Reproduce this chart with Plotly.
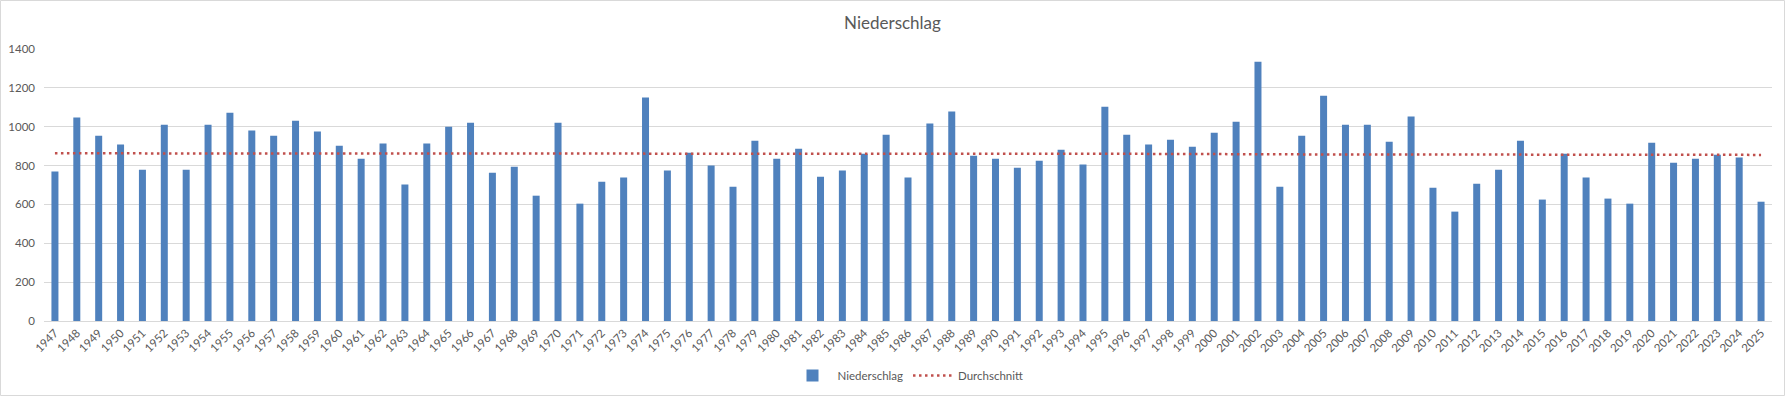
import plotly.graph_objects as go

years = [str(y) for y in range(1947, 2026)]
niederschlag = [
    769, 1047, 954, 908, 779, 1010, 779, 1010, 1072, 980, 954, 1031, 975,   # 1947-1959
    902, 835, 913, 702, 913, 1000, 1021, 763, 794, 645, 1021, 604, 717,     # 1960-1972
    738, 1150, 774, 866, 800, 691, 928, 835, 887, 743, 774, 861, 959, 738,  # 1973-1986
    1016, 1078, 851, 835, 789, 825, 882, 805, 1103, 959, 908, 933, 897, 969,  # 1987-2000
    1026, 1335, 691, 954, 1160, 1010, 1010, 923, 1052, 686, 563, 707, 779, 928,  # 2001-2014
    625, 861, 738, 630, 604, 918, 815, 835, 856, 841, 614,                   # 2015-2025
]
durchschnitt = (
    [863] * 13 + [862] * 13 + [861] * 14 + [860] * 14 + [858] * 14 + [855] * 11
)

fnt = "Lato, 'Open Sans', sans-serif"
grey = "#595959"

fig = go.Figure()
fig.add_trace(go.Bar(
    x=years, y=niederschlag, name="Niederschlag",
    marker=dict(color="#4F81BD", line=dict(width=0)),
))
fig.add_trace(go.Scatter(
    x=years, y=durchschnitt, name="Durchschnitt", mode="lines",
    line=dict(color="#C0504D", width=2.5, dash="2.5px,3.5px"),
))

W, H = 1785, 396
ml, mr, mt, mb = 44, 13, 49, 75
pw, ph = W - ml - mr, H - mt - mb

fig.update_layout(
    width=W, height=H,
    margin=dict(l=ml, r=mr, t=mt, b=mb, autoexpand=False),
    paper_bgcolor="white", plot_bgcolor="white",
    bargap=0.68,
    font=dict(family=fnt, color=grey, size=11),
    title=dict(text="Niederschlag", x=0.5, xanchor="center", y=1 - 23 / H, yanchor="middle",
               font=dict(family=fnt, size=17, color=grey)),
    showlegend=True,
    legend=dict(orientation="h", x=0.5, xanchor="center", y=-0.2, yanchor="middle",
                font=dict(family=fnt, size=11.5, color=grey), itemwidth=40),
    xaxis=dict(type="category", tickangle=-45, showgrid=False, showline=True, automargin=False,
               linecolor="#D9D9D9", linewidth=1, ticks="", tickfont=dict(size=11.5, color=grey)),
    yaxis=dict(range=[0, 1400], dtick=200, showgrid=True, gridcolor="#D9D9D9", gridwidth=1,
               zeroline=False, showline=False, ticks="", ticklabelstandoff=8, automargin=False,
               tickfont=dict(size=11.5, color=grey)),
    shapes=[dict(type="rect", xref="paper", yref="paper",
                 x0=-(ml - 0.5) / pw, x1=1 + (mr - 0.5) / pw,
                 y0=-(mb - 0.5) / ph, y1=1 + (mt - 0.5) / ph,
                 line=dict(color="#D9D9D9", width=1), layer="below")],
)

fig.write_html("out.html", config={"displayModeBar": False},
               post_script="document.body.style.margin='0';")
